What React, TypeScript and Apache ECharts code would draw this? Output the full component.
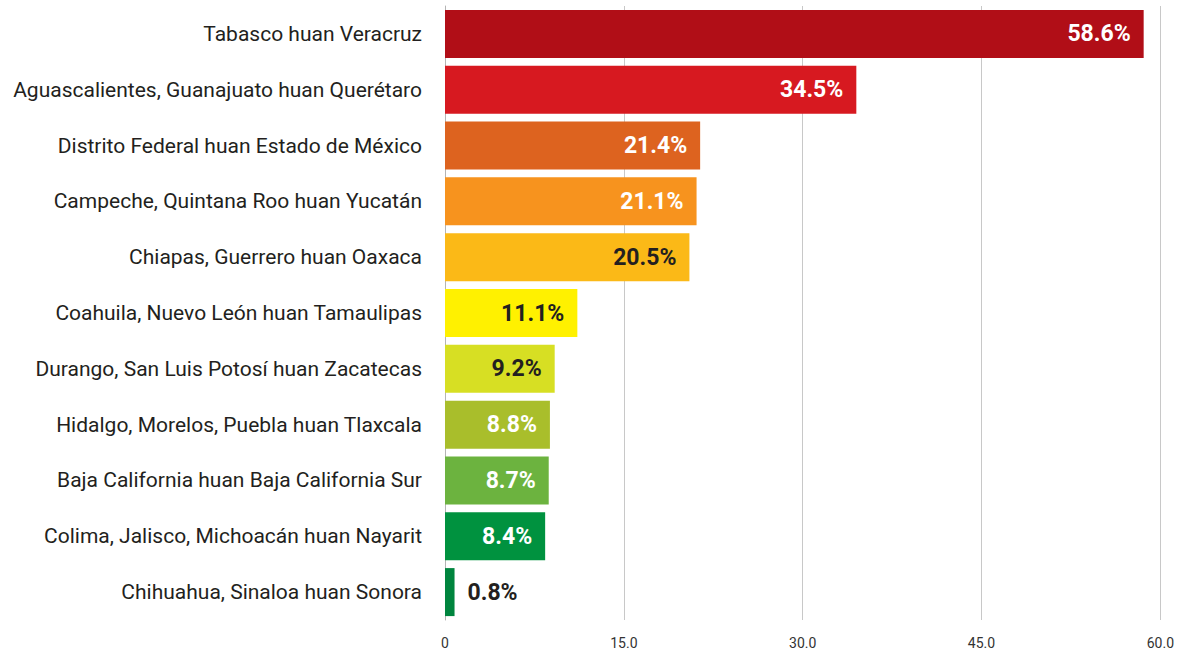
import React, { useEffect, useRef } from "react";
import * as echarts from "echarts";

const categories = [
  "Tabasco huan Veracruz",
  "Aguascalientes, Guanajuato huan Querétaro",
  "Distrito Federal huan Estado de México",
  "Campeche, Quintana Roo huan Yucatán",
  "Chiapas, Guerrero huan Oaxaca",
  "Coahuila, Nuevo León huan Tamaulipas",
  "Durango, San Luis Potosí huan Zacatecas",
  "Hidalgo, Morelos, Puebla huan Tlaxcala",
  "Baja California huan Baja California Sur",
  "Colima, Jalisco, Michoacán huan Nayarit",
  "Chihuahua, Sinaloa huan Sonora",
];

const values = [58.6, 34.5, 21.4, 21.1, 20.5, 11.1, 9.2, 8.8, 8.7, 8.4, 0.8];

const barColors = [
  "#B10E17",
  "#D71920",
  "#DD631F",
  "#F7931E",
  "#FBB917",
  "#FFF100",
  "#D7DF23",
  "#A9BE2B",
  "#6CB33F",
  "#00923F",
  "#00853E",
];

const labelColors = [
  "#FFFFFF",
  "#FFFFFF",
  "#FFFFFF",
  "#FFFFFF",
  "#231F20",
  "#231F20",
  "#231F20",
  "#FFFFFF",
  "#FFFFFF",
  "#FFFFFF",
  "#231F20",
];

const xTicks = { min: 0, max: 60, interval: 15 };

export default function App() {
  const ref = useRef<HTMLDivElement>(null);

  useEffect(() => {
    if (!ref.current) return;
    const chart = echarts.init(ref.current, undefined, { renderer: "svg" });
    const data = values.map((v, i) => {
      const outside = v < 3;
      return {
        value: v,
        itemStyle: { color: barColors[i] },
        label: {
          show: true,
          position: outside ? "right" : "insideRight",
          distance: 13,
          color: labelColors[i],
        },
      };
    });
    chart.setOption({
      animation: false,
      backgroundColor: "#FFFFFF",
      grid: { left: 445, top: 6, width: 719, height: 617, containLabel: false },
      xAxis: {
        type: "value",
        min: xTicks.min,
        max: xTicks.max,
        interval: xTicks.interval,
        axisLine: { show: false },
        axisTick: { show: false },
        axisLabel: {
          margin: 16,
          color: "#333333",
          fontFamily: "Roboto",
          fontSize: 14,
          formatter: (v: number) => (v === 0 ? "0" : v.toFixed(1)),
        },
        splitLine: { show: true, lineStyle: { color: "#C8C8C8", width: 1 } },
      },
      yAxis: {
        type: "category",
        data: categories,
        inverse: true,
        axisLine: { show: true, lineStyle: { color: "#B4B4B4", width: 1 } },
        axisTick: { show: false },
        axisLabel: {
          margin: 23,
          color: "#231F20",
          fontFamily: "Roboto",
          fontSize: 21,
        },
      },
      series: [
        {
          type: "bar",
          data,
          barWidth: 48,
          label: {
            show: true,
            fontFamily: "Roboto",
            fontWeight: "bold",
            fontSize: 23,
            formatter: (p: any) => `${p.value.toFixed(1)}%`,
          },
        },
      ],
    });
    return () => chart.dispose();
  }, []);

  return (
    <div
      ref={ref}
      style={{ position: "fixed", left: 0, top: 0, width: 1177, height: 650 }}
    />
  );
}
